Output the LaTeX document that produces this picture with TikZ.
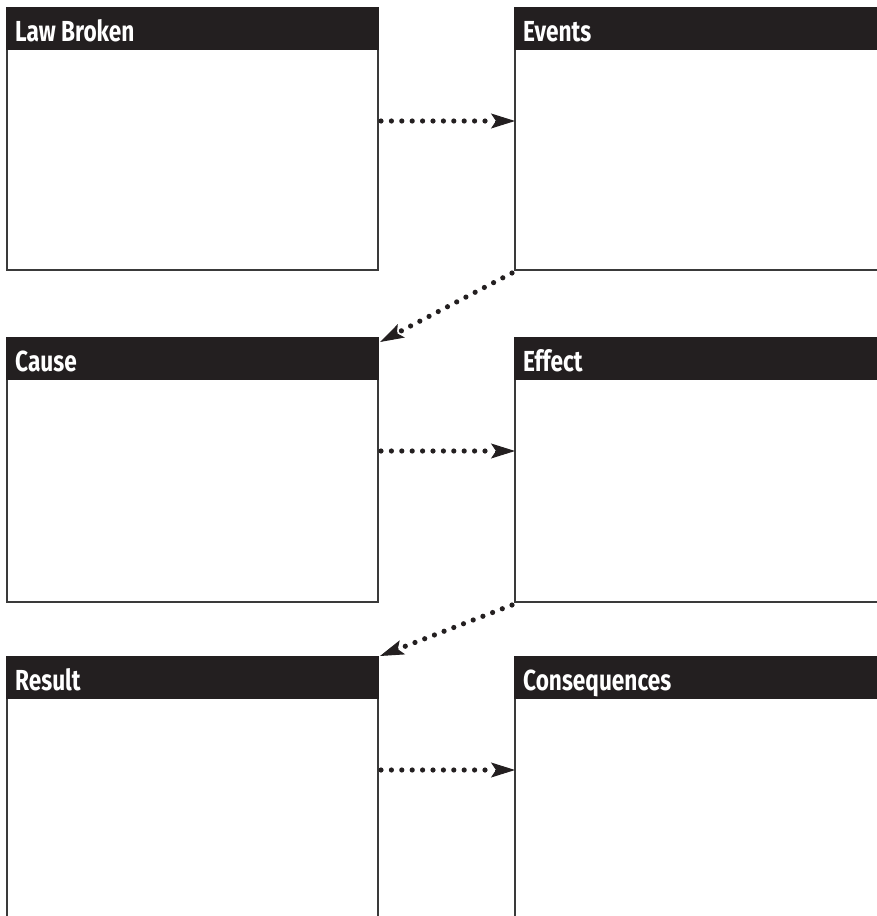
\documentclass[tikz,border=0pt]{standalone}
\usepackage{fontspec}
\setmainfont{Fira Sans}[FakeStretch=0.78]
\usetikzlibrary{arrows.meta,calc}
\definecolor{hdr}{HTML}{231F20}
\definecolor{frame}{HTML}{3A3A3A}
\tikzset{
  panel/.style={draw=frame, line width=2pt, fill=white},
  header/.style={fill=hdr},
  title/.style={anchor=base west, text=white, font=\bfseries\fontsize{29}{30}\selectfont, inner sep=0pt},
  flow/.style={line width=5.2pt, line cap=round, dash pattern=on 0pt off 10.4pt, draw=hdr},
  tip/.style={-{Stealth[length=24pt,width=15pt,inset=5pt]}, line width=1pt, draw=hdr, fill=hdr}
}
\begin{document}
\begin{tikzpicture}[x=1pt,y=-1pt]
\useasboundingbox (0,0) rectangle (877,916);
% boxes
\foreach \nm/\xa/\xb/\ya/\yb in {lb/7/378/8/270, ev/515/900/8/270, ca/7/378/338/602, ef/515/900/338/602, re/7/378/657/930, co/515/900/657/930}{
  \draw[panel] (\xa,\ya) rectangle (\xb,\yb);
  \fill[header] (\xa-1,\ya-1) rectangle (\xb+1,\ya+42);
}
\node[title] (tlb) at (15,41) {Law Broken};
\node[title] (tev) at (523,41) {Events};
\node[title] (tca) at (15,371) {Cause};
\node[title] (tef) at (523,371) {Effect};
\node[title] (tre) at (15,690) {Result};
\node[title] (tco) at (523,690) {Consequences};
% connector end points
\coordinate (a1) at (381,121); \coordinate (b1) at (515,121);
\coordinate (a2) at (512,273); \coordinate (b2) at (380,342);
\coordinate (a3) at (381,451); \coordinate (b3) at (515,451);
\coordinate (a4) at (512,605); \coordinate (b4) at (380,656);
\coordinate (a5) at (381,770); \coordinate (b5) at (515,770);
\foreach \s/\e in {a1/b1,a2/b2,a3/b3,a4/b4,a5/b5}{
  \draw[flow] (\s) -- ($(\e)!20pt!(\s)$);
  \draw[tip] ($(\e)!20pt!(\s)$) -- (\e);
}
\end{tikzpicture}
\end{document}
